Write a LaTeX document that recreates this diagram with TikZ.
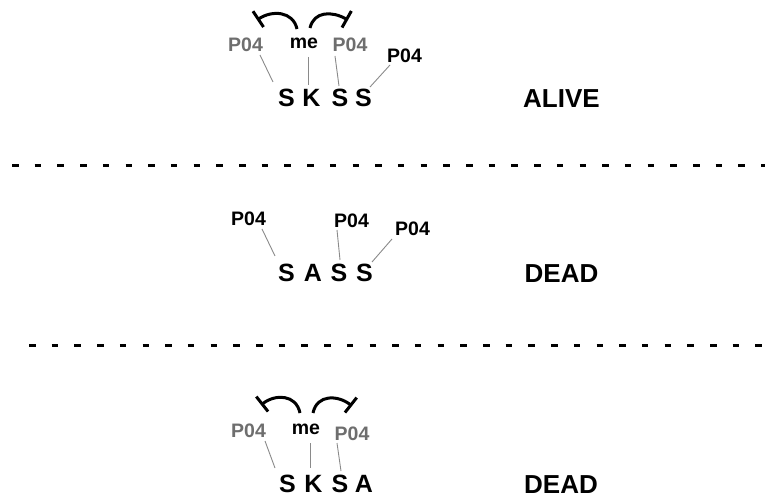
\documentclass[tikz,border=0pt]{standalone}
\usepackage{fontspec}
\setmainfont{Liberation Sans}
\usetikzlibrary{arrows.meta,calc}
\definecolor{lblgray}{HTML}{6E6E6E}
\definecolor{lingray}{HTML}{8A8A8A}
\tikzset{
  letter/.style={anchor=base,inner sep=0pt,font=\fontsize{25}{25}\selectfont\bfseries},
  state/.style={anchor=base,inner sep=0pt,font=\fontsize{26}{26}\selectfont\bfseries},
  lbl/.style={anchor=base,inner sep=0pt,font=\fontsize{19.5}{19.5}\selectfont\bfseries},
  glbl/.style={lbl,text=lblgray},
  conn/.style={draw=lingray,line width=0.9pt},
  inhib/.style={line width=3pt,-{Bar[width=19pt,line width=3pt]}},
  sep/.style={line width=3pt,dash pattern=on 6.5pt off 16.2pt}
}
\begin{document}
\begin{tikzpicture}[x=1pt,y=-1pt]
\useasboundingbox (0,0) rectangle (772,497);
% ---------- row 1 ----------
\node[letter] (r1s1) at (286.5,107) {S};
\node[letter] (r1k)  at (311.5,107) {K};
\node[letter] (r1s2) at (340,107) {S};
\node[letter] (r1s3) at (363.5,107) {S};
\node[glbl] (r1pa) at (245.5,52) {P04};
\node[lbl]  (r1me) at (304,49) {me};
\node[glbl] (r1pb) at (350,52) {P04};
\node[lbl]  (r1pc) at (404.5,63) {P04};
\node[state] (alive) at (561.5,108) {ALIVE};
\draw[conn] ($(r1pa.base)+(14.5,3)$) -- ($(r1s1.base)+(-13.5,-25)$);
\draw[conn] ($(r1me.base)+(4.5,8)$) -- ($(r1k.base)+(-3,-22)$);
\draw[conn] ($(r1pb.base)+(-15,4)$) -- ($(r1s2.base)+(-1,-21)$);
\draw[conn] ($(r1pc.base)+(-14.5,2)$) -- ($(r1s3.base)+(6.5,-20)$);
\draw[inhib] ($(r1me.base)+(-7,-20)$) .. controls (293,11) and (272,10) .. (257,20);
\draw[inhib] ($(r1me.base)+(6,-21)$) .. controls (314,11) and (332,11) .. (348,20);
% ---------- separator 1 ----------
\coordinate (d1a) at (12,166);
\coordinate (d1b) at (765,166);
\draw[sep] (d1a) -- (d1b);
% ---------- row 2 ----------
\node[letter] (r2s1) at (286.5,282) {S};
\node[letter] (r2a)  at (313,282) {A};
\node[letter] (r2s2) at (339,282) {S};
\node[letter] (r2s3) at (364.5,282) {S};
\node[lbl] (r2pa) at (248.5,226) {P04};
\node[lbl] (r2pb) at (351.5,228) {P04};
\node[lbl] (r2pc) at (412.5,236) {P04};
\node[state] (dead1) at (561.5,283) {DEAD};
\draw[conn] ($(r2pa.base)+(13.5,3)$) -- ($(r2s1.base)+(-11.5,-26)$);
\draw[conn] ($(r2pb.base)+(-14.5,2)$) -- ($(r2s2.base)+(1,-22)$);
\draw[conn] ($(r2pc.base)+(-20.5,3)$) -- ($(r2s3.base)+(7.5,-20)$);
% ---------- separator 2 ----------
\coordinate (d2a) at (29,346);
\coordinate (d2b) at (765,346);
\draw[sep] (d2a) -- (d2b);
% ---------- row 3 ----------
\node[letter] (r3s1) at (287.5,492) {S};
\node[letter] (r3k)  at (313.5,492) {K};
\node[letter] (r3s2) at (340,492) {S};
\node[letter] (r3a)  at (364,492) {A};
\node[glbl] (r3pa) at (248.5,438) {P04};
\node[lbl]  (r3me) at (306,435) {me};
\node[glbl] (r3pb) at (352,440) {P04};
\node[state] (dead2) at (561,493) {DEAD};
\draw[conn] ($(r3pa.base)+(16.5,3)$) -- ($(r3s1.base)+(-12.5,-24)$);
\draw[conn] ($(r3me.base)+(4,8)$) -- ($(r3k.base)+(-3.5,-24)$);
\draw[conn] ($(r3pb.base)+(-15,3)$) -- ($(r3s2.base)+(1,-21)$);
\draw[inhib] ($(r3me.base)+(-6,-22)$) .. controls (296,394) and (275,394) .. (261,405);
\draw[inhib] ($(r3me.base)+(7,-22)$) .. controls (317,394) and (338,395) .. (352,406);
\end{tikzpicture}
\end{document}
